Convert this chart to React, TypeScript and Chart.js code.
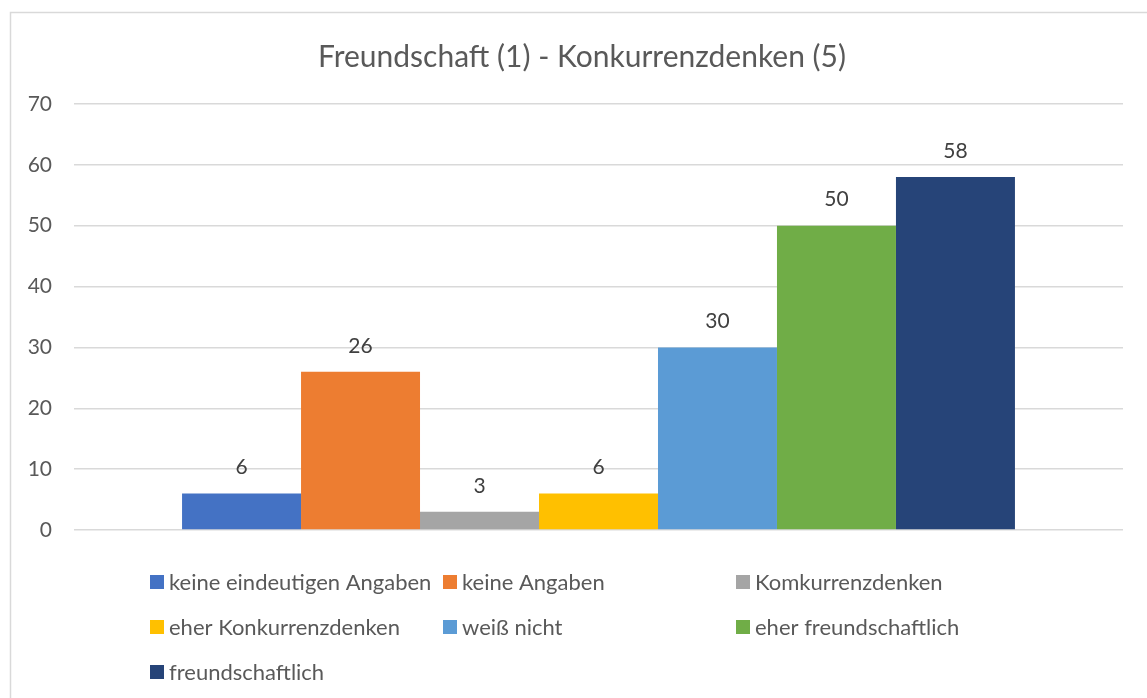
import React, { useEffect, useRef } from "react";
import { Chart, registerables } from "chart.js";

Chart.register(...registerables);

const categories = [""];
const seriesNames = [
  "keine eindeutigen Angaben",
  "keine Angaben",
  "Komkurrenzdenken",
  "eher Konkurrenzdenken",
  "weiß nicht",
  "eher freundschaftlich",
  "freundschaftlich",
];
const seriesValues = [6, 26, 3, 6, 30, 50, 58];
const seriesColors = ["#4472C4", "#ED7D31", "#A5A5A5", "#FFC000", "#5B9BD5", "#70AD47", "#264478"];
const yTicks = [0, 10, 20, 30, 40, 50, 60, 70];
const titleText = "Freundschaft (1) - Konkurrenzdenken (5)";

const FONT = "Lato, 'Noto Sans', sans-serif";

const borderPlugin = {
  id: "frameBorder",
  beforeDraw(chart: any) {
    const ctx = chart.ctx;
    ctx.save();
    ctx.fillStyle = "#ffffff";
    ctx.fillRect(0, 0, chart.width, chart.height);
    ctx.strokeStyle = "#d9d9d9";
    ctx.lineWidth = 1.5;
    ctx.strokeRect(10.5, 12.5, 1300, 900);
    ctx.restore();
  },
};

const valueLabelPlugin = {
  id: "valueLabels",
  afterDatasetsDraw(chart: any) {
    const ctx = chart.ctx;
    ctx.save();
    ctx.font = `21px ${FONT}`;
    ctx.fillStyle = "#404040";
    ctx.textAlign = "center";
    ctx.textBaseline = "middle";
    chart.data.datasets.forEach((ds: any, i: number) => {
      const meta = chart.getDatasetMeta(i);
      meta.data.forEach((el: any, j: number) => {
        ctx.fillText(String(ds.data[j]), el.x, el.y - 26);
      });
    });
    ctx.restore();
  },
};

const gridLegendPlugin = {
  id: "gridLegend",
  afterDraw(chart: any) {
    const ctx = chart.ctx;
    const colX = [150, 443, 736];
    const rowY = [582, 627, 672];
    ctx.save();
    ctx.font = `22px ${FONT}`;
    ctx.textBaseline = "middle";
    ctx.textAlign = "left";
    chart.data.datasets.forEach((ds: any, i: number) => {
      const x = colX[i % 3];
      const y = rowY[Math.floor(i / 3)];
      ctx.fillStyle = ds.backgroundColor;
      ctx.fillRect(x, y - 7, 14, 14);
      ctx.fillStyle = "#595959";
      ctx.fillText(ds.label, x + 19, y + 1);
    });
    ctx.restore();
  },
};

export default function App() {
  const ref = useRef<HTMLCanvasElement | null>(null);
  useEffect(() => {
    if (!ref.current) return;
    const chart = new Chart(ref.current, {
      type: "bar",
      data: {
        labels: categories,
        datasets: seriesNames.map((name, i) => ({
          label: name,
          data: [seriesValues[i]],
          backgroundColor: seriesColors[i],
          borderWidth: 0,
          categoryPercentage: 0.794,
          barPercentage: 1,
        })),
      },
      options: {
        responsive: false,
        maintainAspectRatio: false,
        animation: false,
        layout: { padding: { left: 17, right: 0, top: 0, bottom: 168 } },
        plugins: {
          legend: { display: false },
          tooltip: { enabled: false },
          title: {
            display: true,
            text: titleText,
            color: "#595959",
            font: { family: FONT, size: 30, weight: "normal" },
            padding: { top: 39, bottom: 29 },
          },
        },
        scales: {
          x: { display: false },
          y: {
            position: "left",
            min: 0,
            max: 70,
            afterBuildTicks(scale: any) {
              scale.ticks = yTicks.map((v) => ({ value: v }));
            },
            afterFit(scale: any) {
              scale.width = 57;
            },
            border: { display: false },
            grid: { color: "#d9d9d9", lineWidth: 1.5, drawTicks: false },
            ticks: {
              color: "#595959",
              font: { family: FONT, size: 21 },
              padding: 22,
            },
          },
          yRight: {
            position: "right",
            min: 0,
            max: 70,
            afterFit(scale: any) {
              scale.width = 24;
            },
            border: { display: false },
            grid: { display: false, drawTicks: false },
            ticks: { display: false },
          },
        },
      },
      plugins: [borderPlugin, valueLabelPlugin, gridLegendPlugin],
    });
    return () => chart.destroy();
  }, []);
  return (
    <div style={{ position: "absolute", left: 0, top: 0, width: 1147, height: 698 }}>
      <canvas ref={ref} width={1147} height={698} />
    </div>
  );
}
